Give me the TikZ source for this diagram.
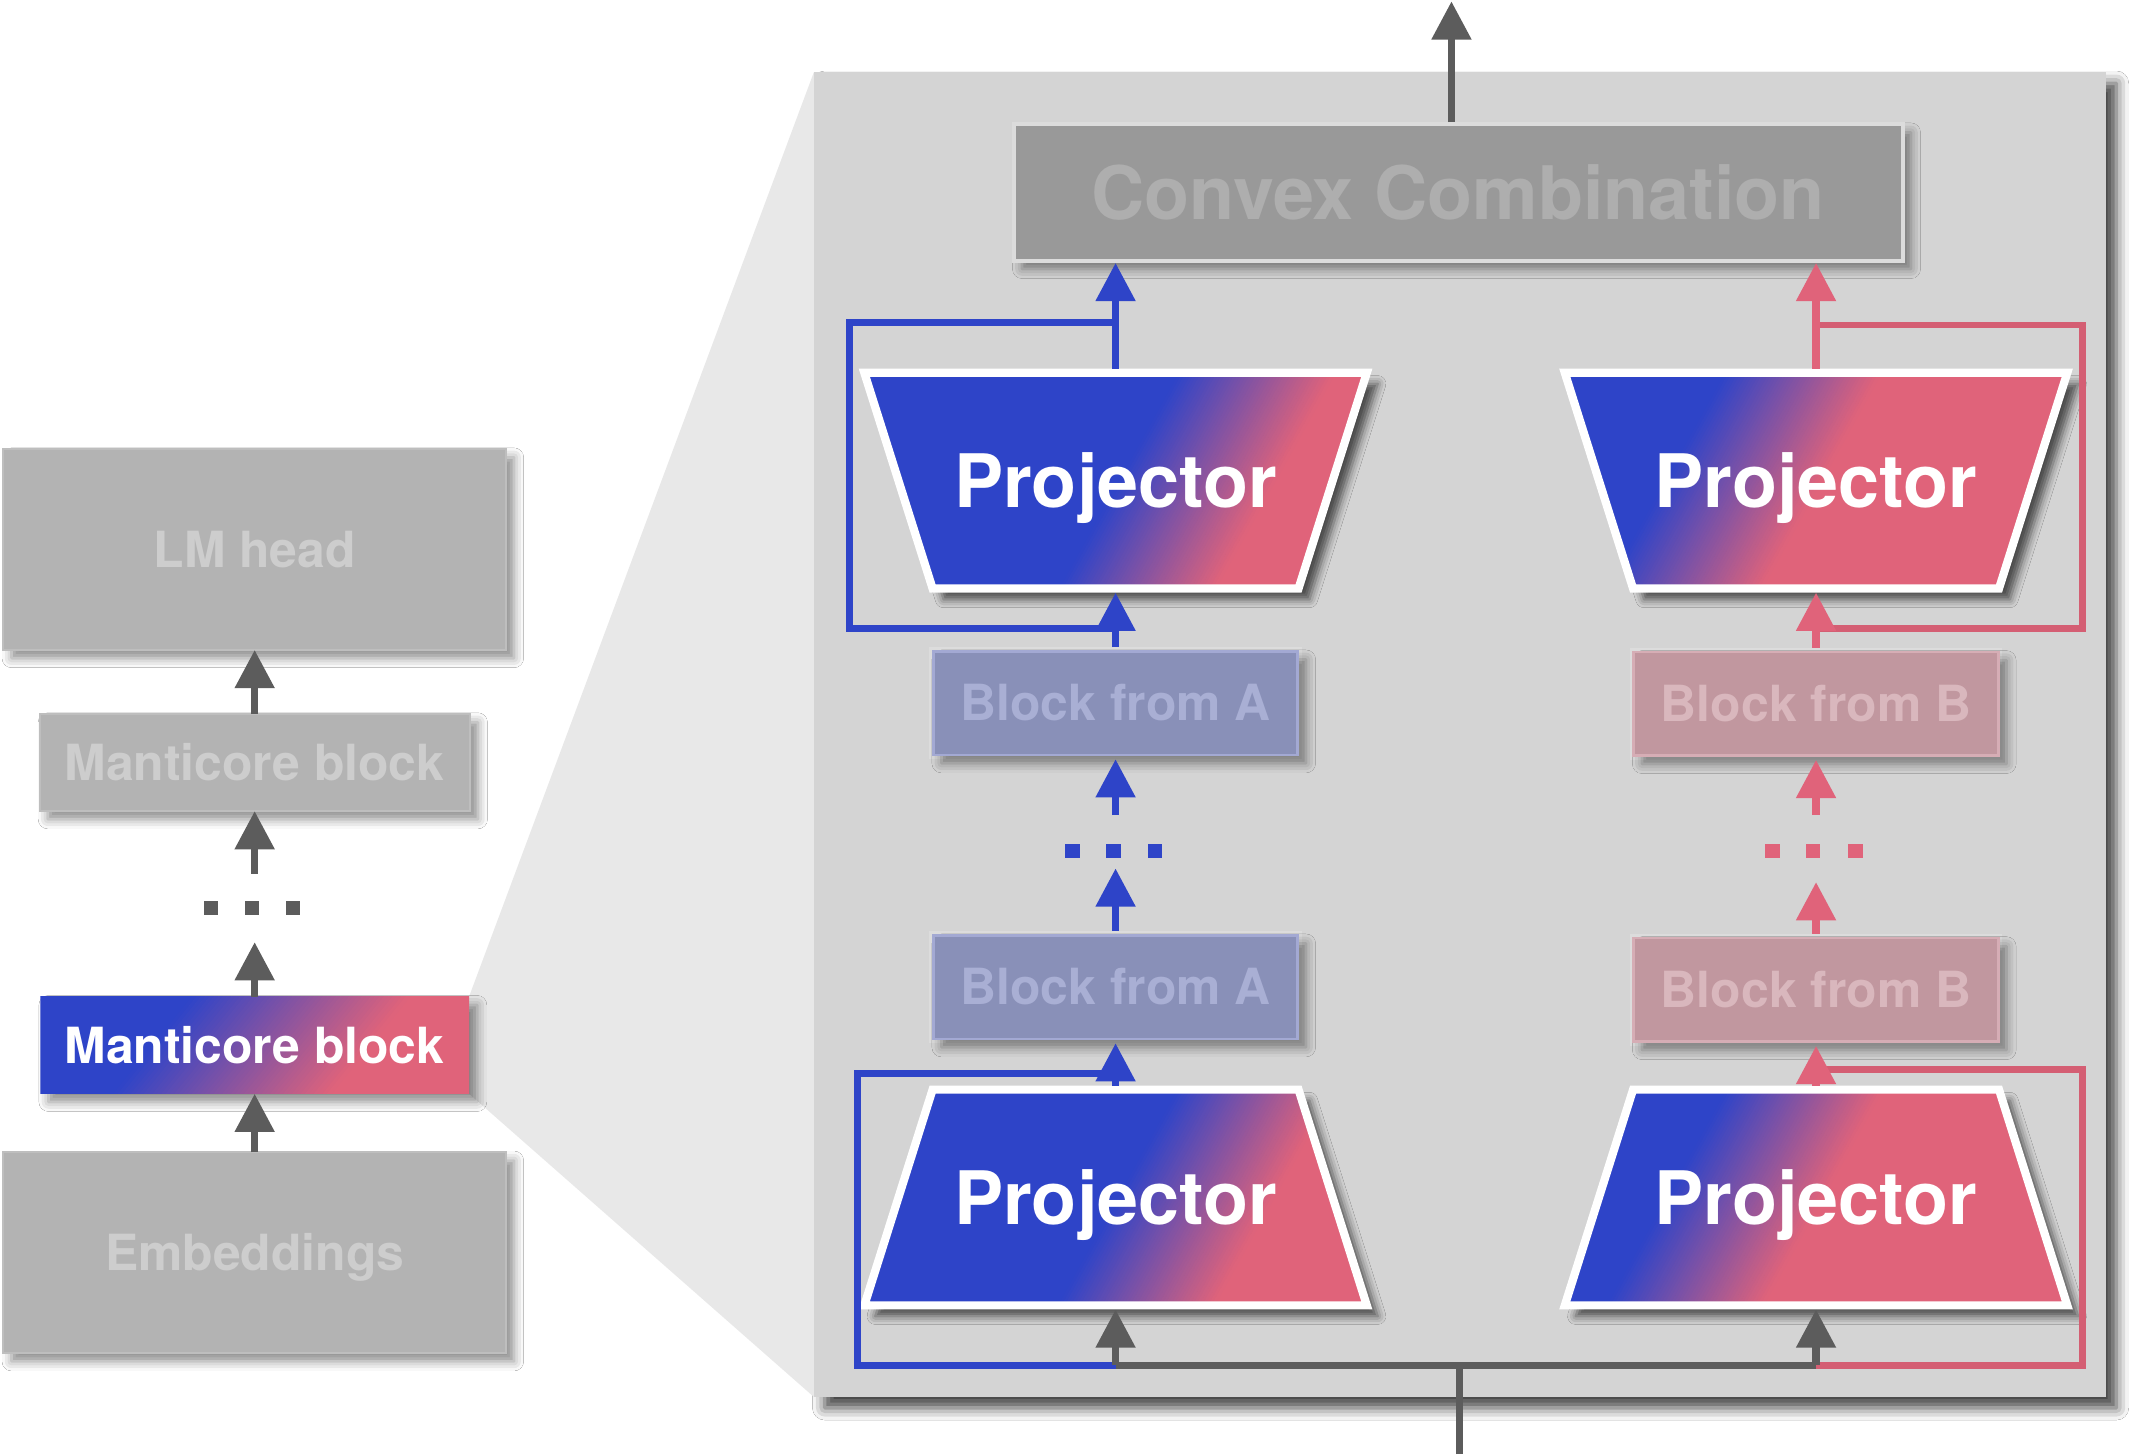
\documentclass[tikz,border=0pt]{standalone}
\usepackage{fontspec}
\setmainfont{TeX Gyre Heros}
\usetikzlibrary{arrows.meta,calc,shadows.blur}
\definecolor{cblue}{HTML}{2E44C8}
\definecolor{cpink}{HTML}{E0637A}
\definecolor{cpinkd}{HTML}{D45E73}
\definecolor{cgray}{HTML}{5C5C5C}
\definecolor{boxgray}{HTML}{B3B3B3}
\definecolor{boxedge}{HTML}{BEBEBE}
\definecolor{boxtext}{HTML}{CDCDCD}
\definecolor{panelgray}{HTML}{D4D4D4}
\definecolor{zoomgray}{HTML}{E8E8E8}
\definecolor{convfill}{HTML}{999999}
\definecolor{convtext}{HTML}{AEAEAE}
\definecolor{lightedge}{HTML}{DCDCDC}
\definecolor{afill}{HTML}{8990B8}
\definecolor{aedge}{HTML}{A3A9D3}
\definecolor{atext}{HTML}{A9AFD4}
\definecolor{bfill}{HTML}{C1979F}
\definecolor{bedge}{HTML}{D6ADB5}
\definecolor{btext}{HTML}{D9B7BD}
% blue -> pink band of width 2*#3, centred at point #1, turned by #2 degrees
\newcommand\gradfill[3]{%
  \begin{scope}[shift={#1}, rotate=#2]
    \fill[cblue] (-700,-500) rectangle ({-#3+0.5},500);
    \fill[cpink] ({#3-0.5},-500) rectangle (700,500);
    \foreach \i in {0,...,49}{%
      \pgfmathsetmacro\pc{(\i+0.5)*2}%
      \fill[cpink!\pc!cblue] ({-#3+2*#3*\i/50},-500) rectangle ({-#3+2*#3*(\i+1)/50+0.4},500);
    }
  \end{scope}}
\newcommand\projpath[5]{%
  \path[projshape, path picture={\gradfill{({#1+#5},#2)}{-29}{50}}]
    ({#1-#3},{#2-79}) -- ({#1+#3},{#2-79}) -- ({#1+#4},{#2+79}) -- ({#1-#4},{#2+79}) -- cycle;}
\tikzset{
  capc/.style={text height=#1, text depth=0pt},
  smalltxt/.style={font=\bfseries\fontsize{36.5}{40}\selectfont, capc=26pt},
  bigtxt/.style={font=\bfseries\fontsize{54}{60}\selectfont, capc=39pt},
  softshadow/.style={blur shadow={shadow xshift=6pt, shadow yshift=-6pt, shadow blur radius=7pt, shadow opacity=45}},
  graybox/.style={rectangle, fill=boxgray, draw=boxedge, line width=1.5pt, text=boxtext, smalltxt, inner sep=0pt, outer sep=0pt, softshadow},
  mcnode/.style={rectangle, inner sep=0pt, outer sep=0pt, text=white, smalltxt, minimum width=314pt, minimum height=71pt},
  dotsnode/.style={rectangle, inner sep=0pt, outer sep=0pt, minimum width=80pt},
  panelnode/.style={rectangle, fill=panelgray, inner sep=0pt, outer sep=0pt, blur shadow={shadow xshift=8pt, shadow yshift=-8pt, shadow blur radius=9pt, shadow opacity=75}},
  convnode/.style={rectangle, fill=convfill, draw=lightedge, line width=3pt, text=convtext, bigtxt, inner sep=0pt, outer sep=1.5pt, softshadow},
  projshape/.style={draw=white, line width=6pt, line join=miter, blur shadow={shadow xshift=8pt, shadow yshift=-8pt, shadow blur radius=6pt, shadow opacity=65}},
  projnode/.style={rectangle, inner sep=0pt, outer sep=0pt, minimum width=374pt, minimum height=164pt, text=white, bigtxt},
  blockA/.style={rectangle, minimum width=267pt, minimum height=76pt, fill=afill, draw=aedge, line width=2pt, preaction={draw=lightedge, line width=6pt}, text=atext, smalltxt, inner sep=0pt, outer sep=3pt, softshadow},
  blockB/.style={blockA, fill=bfill, draw=bedge, text=btext},
  arrG/.style={draw=cgray, line width=5.5pt, -{Triangle[width=28pt,length=28pt]}},
  arrA/.style={arrG, draw=cblue},
  arrB/.style={arrG, draw=cpink},
  lineG/.style={draw=cgray, line width=5pt},
  loopA/.style={draw=cblue, line width=5pt, line join=miter},
  loopB/.style={draw=cpinkd, line width=5pt, line join=miter},
}
\begin{document}
\begin{tikzpicture}[x=1pt, y=-1pt]
\fill[white] (0,0) rectangle (1568,1065);
\useasboundingbox (0,0) rectangle (1568,1065);

% ---------- panel and zoom wedge ----------
\node[panelnode, minimum width=946pt, minimum height=970pt] (panel) at (1069,538) {};
\coordinate (mcNE) at (343.5,730);
\coordinate (mcSE) at (343.5,801);
\fill[zoomgray] (mcNE) -- (panel.north west) -- (panel.south west) -- (mcSE) -- cycle;

% ---------- left column ----------
\node[graybox, minimum width=368pt, minimum height=147pt] (lm) at (186.5,402.5) {LM head};
\node[graybox, minimum width=315pt, minimum height=71pt] (mg) at (186.5,558.5) {Manticore block};
\node[dotsnode, minimum height=50pt] (ld) at (186.5,665) {};
\foreach \dx in {-32,-2,28}
  \fill[cgray] ([xshift=\dx pt]ld.center) ++(-5.25,-5.25) rectangle ++(10.5,10.5);
\path[softshadow, path picture={\gradfill{(191.5,765.5)}{-39}{62}}] ($(mcNE)+(-314,0)$) rectangle (mcSE);
\node[mcnode, anchor=north east] (mc) at (mcNE) {Manticore block};
\node[graybox, minimum width=368pt, minimum height=147pt] (emb) at (186.5,917.5) {Embeddings};

\draw[arrG] (emb) -- (emb |- mc.south);
\draw[arrG] (mc.north -| ld) -- (ld);
\draw[arrG] (ld) -- (mg);
\draw[arrG] (mg) -- (lm);

% ---------- convex combination ----------
\node[convnode, minimum width=651pt, minimum height=100pt] (conv) at (1068,141) {Convex Combination};
\coordinate (out) at (1063,1);
\draw[arrG] (conv.north -| out) -- (out);

% ---------- projectors ----------
\projpath{817}{352}{184}{134}{60}
\node[projnode] (pA1) at (817,352) {Projector};
\projpath{817}{877}{134}{184}{59}
\node[projnode] (pA2) at (817,877) {Projector};
\projpath{1330}{352}{184}{134}{-53}
\node[projnode] (pB1) at (1330,352) {Projector};
\projpath{1330}{877}{134}{184}{-52}
\node[projnode] (pB2) at (1330,877) {Projector};

% ---------- blocks ----------
\node[blockA] (bA1) at (817,515) {Block from A};
\node[blockA] (bA0) at (817,723) {Block from A};
\node[blockB] (bB1) at (1330,515.5) {Block from B};
\node[blockB] (bB0) at (1330,725) {Block from B};

\node[dotsnode, minimum height=39pt] (dA) at (817,616.5) {};
\foreach \dx in {-31.5,-1.5,29}
  \fill[cblue] ([xshift=\dx pt, yshift=-6.5pt]dA.center) ++(-5.25,-5.25) rectangle ++(10.5,10.5);
\node[dotsnode, minimum height=49pt] (dB) at (1330,621.5) {};
\foreach \dx in {-32,-2,29}
  \fill[cpink] ([xshift=\dx pt, yshift=-1.5pt]dB.center) ++(-5.25,-5.25) rectangle ++(10.5,10.5);

% ---------- input ----------
\coordinate (in) at (1069,1065);
\coordinate (jA) at (817,1000);
\coordinate (jB) at (1330,1000);
\draw[lineG] (in) -- (in |- jA);
\draw[lineG] (jA) -- (jB);

% ---------- skip loops ----------
\draw[loopA] ([yshift=-26pt]pA1.south) -| ([xshift=-8pt,yshift=34pt]pA1.north west) -- ([yshift=34pt]pA1.north);
\draw[loopB] ([yshift=-26pt]pB1.south) -| ([xshift=8pt,yshift=32pt]pB1.north east) -- ([yshift=32pt]pB1.north);
\draw[loopA] (jA) -| ([xshift=-2pt,yshift=9pt]pA2.north west) -- ([yshift=9pt]pA2.north);
\draw[loopB] (jB) -| ([xshift=8pt,yshift=12pt]pB2.north east) -- ([yshift=12pt]pB2.north);

% ---------- arrows ----------
\draw[arrA] (pA1.north) -- (pA1.north |- conv.south);
\draw[arrA] (bA1.north) -- (pA1.south);
\draw[arrA] (dA.north) -- (bA1.south);
\draw[arrA] (bA0.north) -- (dA.south);
\draw[arrA] (pA2.north) -- (bA0.south);
\draw[arrG] (jA) -- (pA2.south);

\draw[arrB] (pB1.north) -- (pB1.north |- conv.south);
\draw[arrB] (bB1.north) -- (pB1.south);
\draw[arrB] (dB.north) -- (bB1.south);
\draw[arrB] (bB0.north) -- (dB.south);
\draw[arrB] (pB2.north) -- (bB0.south);
\draw[arrG] (jB) -- (pB2.south);
\end{tikzpicture}
\end{document}
